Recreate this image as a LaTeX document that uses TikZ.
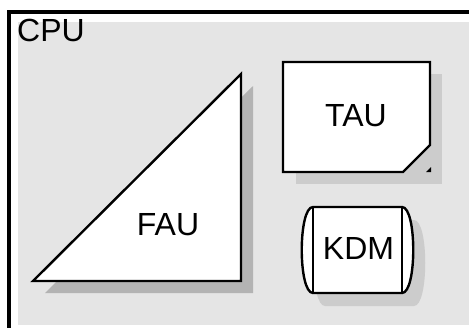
\documentclass[tikz,border=0pt]{standalone}
\usepackage{fontspec}
\setmainfont{Liberation Sans}
\definecolor{panel}{HTML}{E5E5E5}
\definecolor{shadowdark}{HTML}{B3B3B3}
\definecolor{shadowlight}{HTML}{CCCCCC}
\begin{document}
\begin{tikzpicture}[x=1pt,y=-1pt,
  unit/.style={draw=black,line width=2.4pt,fill=white,line join=miter},
  unit text/.style={font=\fontsize{32}{32}\selectfont,inner sep=0pt,anchor=base}]
\useasboundingbox (0,0) rectangle (469,327);
\fill[white] (0,0) rectangle (469,327);

% CPU container: thick frame on the top and left, grey panel inside
\fill[panel] (18,22) rectangle (469,325);
\draw[line width=4pt] (9,340) -- (9,12) -- (480,12);
\node[unit text,anchor=base west] (cpu) at (17,41) {CPU};

% FAU: right triangle with drop shadow
\fill[shadowdark] (45,293) -- (253,86) -- (253,293) -- cycle;
\draw[unit] (33,281) -- (241,74) -- (241,281) -- cycle;
\node[unit text] (fau) at (168,235) {FAU};

% TAU: card with a clipped corner
\fill[shadowlight] (296,74) rectangle (442,184);
\draw[unit] (283,62) -- (430,62) -- (430,145) -- (403,172) -- (283,172) -- cycle;
\fill[black] (426,172) -- (431,172) -- (431,167) -- cycle;
\node[unit text] (tau) at (356,126) {TAU};

% KDM: drum-like box with curved sides
\fill[shadowlight] (325,220) -- (414,220) .. controls (429,220) and (429,306) .. (414,306)
  -- (325,306) .. controls (310,306) and (310,220) .. (325,220) -- cycle;
\draw[unit] (313,207) -- (402,207) .. controls (417,207) and (417,293) .. (402,293)
  -- (313,293) .. controls (298,293) and (298,207) .. (313,207) -- cycle;
\draw[line width=2.4pt] (313,207) -- (313,293) (402,207) -- (402,293);
\node[unit text] (kdm) at (358.5,259) {KDM};
\end{tikzpicture}
\end{document}
